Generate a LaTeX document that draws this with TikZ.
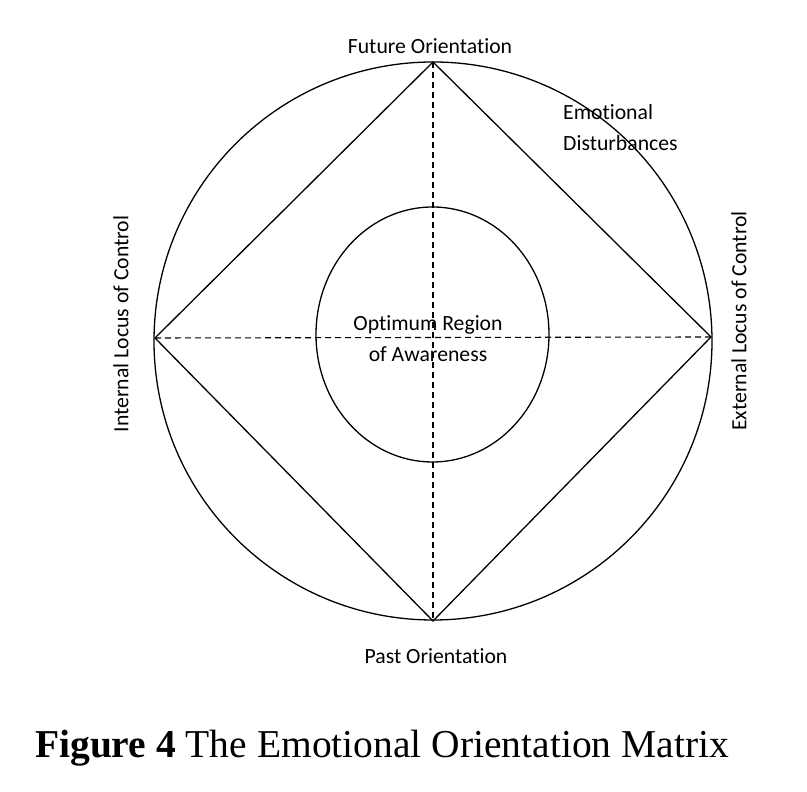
\documentclass[tikz,border=0pt]{standalone}
\usepackage{fontspec}
\setmainfont{Liberation Serif}
\newfontfamily\labelfont[Ligatures=NoCommon]{Carlito}
\usepackage{tikz}
\usetikzlibrary{positioning}

\begin{document}
\begin{tikzpicture}[
    x=1pt, y=1pt,
    shape line/.style={line width=1.3pt},
    axis line/.style={line width=1.1pt, dash pattern=on 6pt off 4pt},
    label text/.style={inner sep=0pt, font=\labelfont\fontsize{21.7}{31}\selectfont},
]
    \useasboundingbox (0,0) rectangle (807,792);

    % matrix outline
    \coordinate (top) at (433,730);
    \coordinate (bottom) at (433,171);
    \coordinate (left) at (155,454);
    \coordinate (right) at (711,455);
    \draw[shape line] (433,451) circle (279);
    \draw[shape line] (432.5,457.5) ellipse (116.5 and 127.5);
    \draw[shape line] (top) -- (right) -- (bottom) -- (left) -- cycle;
    \draw[axis line] (top) -- (bottom);
    \draw[axis line] (left) -- (right);

    % labels
    \node[label text] (future) at (430,746) {Future Orientation};
    \node[label text] (past) at (436,136) {Past Orientation};
    \node[label text, align=left, anchor=west] (disturb) at (563,664) {Emotional\\Disturbances};
    \node[label text, align=center] (optimum) at (428,453) {Optimum Region\\of Awareness};
    \node[label text, rotate=90] (internal) at (121,468) {Internal Locus of Control};
    \node[label text, rotate=90] (external) at (739,471) {External Locus of Control};

    \node[inner sep=0pt, font=\fontsize{39.5}{44}\selectfont] (caption) at (382,44) {\textbf{Figure 4} The Emotional Orientation Matrix};
\end{tikzpicture}
\end{document}
